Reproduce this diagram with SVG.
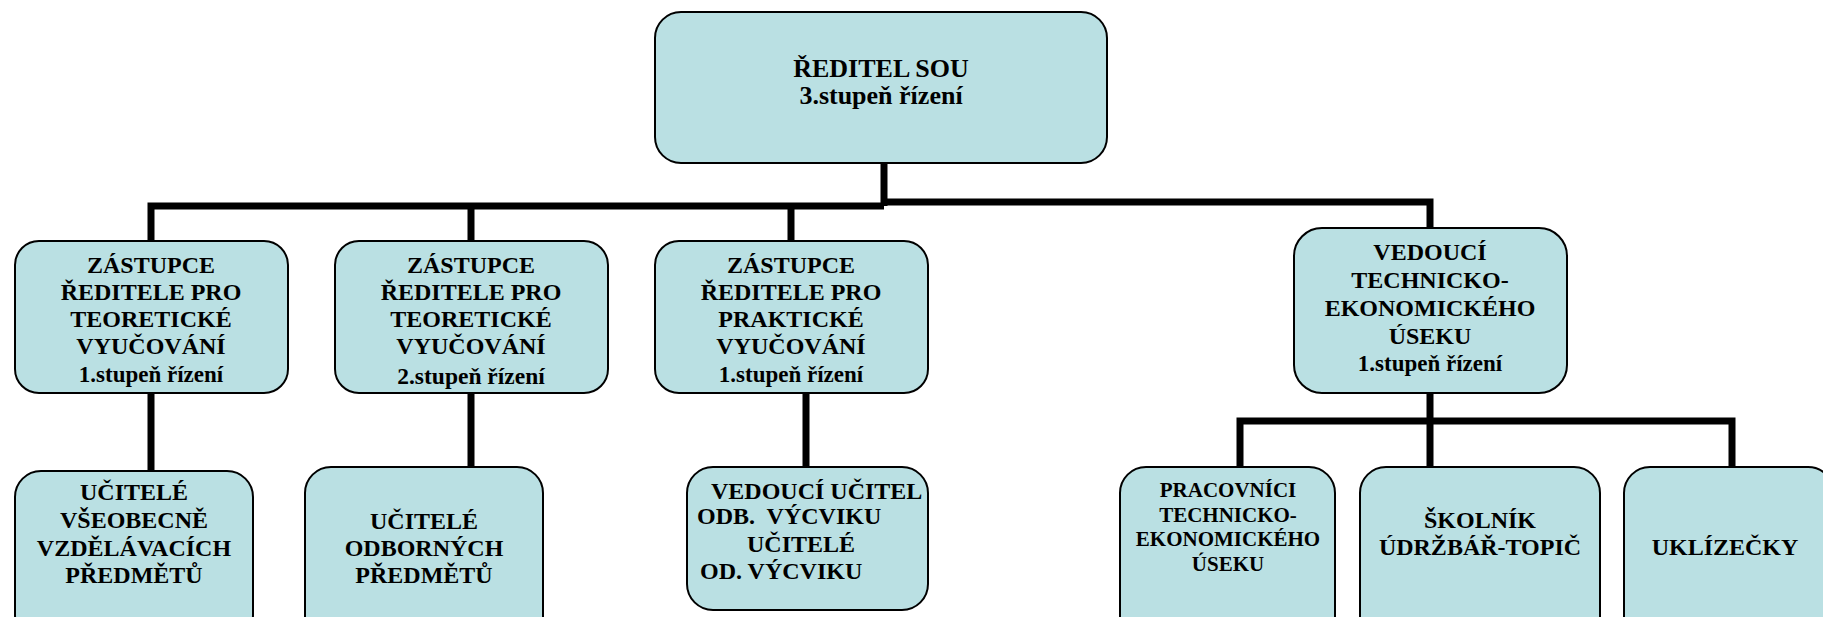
<svg xmlns="http://www.w3.org/2000/svg" width="1823" height="617" viewBox="0 0 1823 617">
<style>
.box{fill:#bae0e3;stroke:#000;stroke-width:2}
.t{font-family:"Liberation Serif","Times New Roman",serif;font-weight:bold;fill:#000;text-anchor:middle}
.s{text-anchor:start}
.l{stroke:#000;stroke-width:7;fill:none}
</style>
<rect width="1823" height="617" fill="#fff"/>
<g id="connectors">
<path class="l" d="M884 163V206" stroke-width="9"/>
<path class="l" d="M151 241V206H884"/>
<path class="l" d="M471 206V241M791 206V241"/>
<path class="l" d="M884 202H1430V228"/>
<path class="l" d="M151 393V471M471 393V467M806 393V467"/>
<path class="l" d="M1430 393V467M1240 467V421H1732V467"/>
</g>
<g id="root"><rect class="box" x="655" y="12" width="452" height="151" rx="26"/>
<text class="t" font-size="26"><tspan x="881" y="77">ŘEDITEL SOU</tspan><tspan x="881" y="104">3.stupeň řízení</tspan></text></g>
<g id="zast1"><rect class="box" x="15" y="241" width="273" height="152" rx="24"/>
<text class="t" font-size="24"><tspan x="151" y="273">ZÁSTUPCE</tspan><tspan x="151" y="300">ŘEDITELE PRO</tspan><tspan x="151" y="327">TEORETICKÉ</tspan><tspan x="151" y="354">VYUČOVÁNÍ</tspan><tspan x="151" y="382" font-size="23">1.stupeň řízení</tspan></text></g>
<g id="zast2"><rect class="box" x="335" y="241" width="273" height="152" rx="24"/>
<text class="t" font-size="24"><tspan x="471" y="273">ZÁSTUPCE</tspan><tspan x="471" y="300">ŘEDITELE PRO</tspan><tspan x="471" y="327">TEORETICKÉ</tspan><tspan x="471" y="354">VYUČOVÁNÍ</tspan><tspan x="471" y="384" font-size="23.5">2.stupeň řízení</tspan></text></g>
<g id="zast3"><rect class="box" x="655" y="241" width="273" height="152" rx="24"/>
<text class="t" font-size="24"><tspan x="791" y="273">ZÁSTUPCE</tspan><tspan x="791" y="300">ŘEDITELE PRO</tspan><tspan x="791" y="327">PRAKTICKÉ</tspan><tspan x="791" y="354">VYUČOVÁNÍ</tspan><tspan x="791" y="382" font-size="23">1.stupeň řízení</tspan></text></g>
<g id="vedte"><rect class="box" x="1294" y="228" width="273" height="165" rx="28"/>
<text class="t" font-size="24"><tspan x="1430" y="260">VEDOUCÍ</tspan><tspan x="1430" y="288">TECHNICKO-</tspan><tspan x="1430" y="316">EKONOMICKÉHO</tspan><tspan x="1430" y="344">ÚSEKU</tspan><tspan x="1430" y="371" font-size="23">1.stupeň řízení</tspan></text></g>
<g id="ucitvs"><rect class="box" x="15" y="471" width="238" height="170" rx="26"/>
<text class="t" font-size="24"><tspan x="134" y="500">UČITELÉ</tspan><tspan x="134" y="528">VŠEOBECNĚ</tspan><tspan x="134" y="556">VZDĚLÁVACÍCH</tspan><tspan x="134" y="583">PŘEDMĚTŮ</tspan></text></g>
<g id="ucitodb"><rect class="box" x="305" y="467" width="238" height="175" rx="26"/>
<text class="t" font-size="24"><tspan x="424" y="529">UČITELÉ</tspan><tspan x="424" y="556">ODBORNÝCH</tspan><tspan x="424" y="583">PŘEDMĚTŮ</tspan></text></g>
<g id="vedouc"><rect class="box" x="687" y="467" width="241" height="143" rx="26"/>
<text class="t s" font-size="24" xml:space="preserve"><tspan x="711" y="499">VEDOUCÍ UČITEL</tspan><tspan x="697" y="524">ODB.  VÝCVIKU</tspan><tspan x="747" y="552">UČITELÉ</tspan><tspan x="700" y="579">OD. VÝCVIKU</tspan></text></g>
<g id="pracov"><rect class="box" x="1120" y="467" width="215" height="175" rx="26"/>
<text class="t" font-size="21"><tspan x="1228" y="497">PRACOVNÍCI</tspan><tspan x="1228" y="522">TECHNICKO-</tspan><tspan x="1228" y="546">EKONOMICKÉHO</tspan><tspan x="1228" y="571">ÚSEKU</tspan></text></g>
<g id="skolnik"><rect class="box" x="1360" y="467" width="240" height="175" rx="26"/>
<text class="t" font-size="24"><tspan x="1480" y="528">ŠKOLNÍK</tspan><tspan x="1480" y="555">ÚDRŽBÁŘ-TOPIČ</tspan></text></g>
<g id="uklid"><rect class="box" x="1624" y="467" width="210" height="175" rx="26"/>
<text class="t" font-size="24"><tspan x="1725" y="555">UKLÍZEČKY</tspan></text></g>
</svg>
